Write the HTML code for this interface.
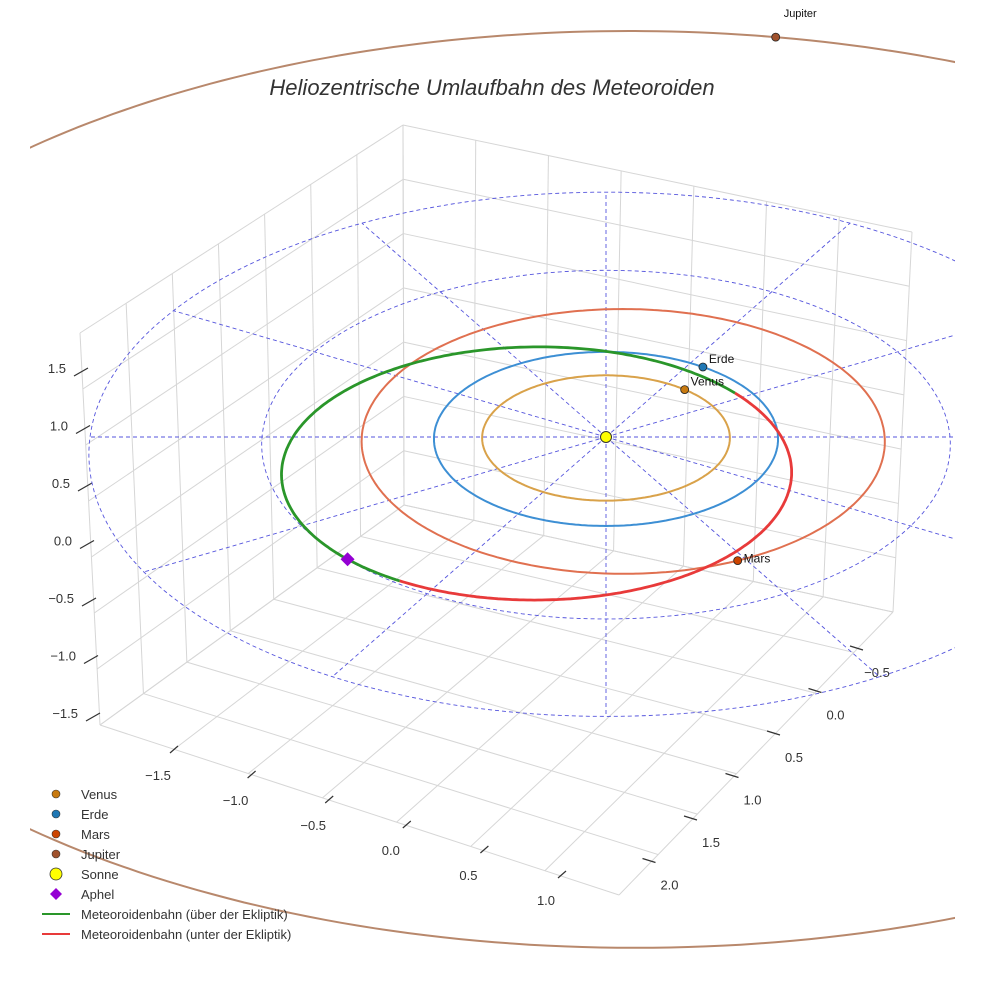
<!DOCTYPE html>
<html><head><meta charset="utf-8"><style>
html,body{margin:0;padding:0;background:#fff;}
svg{display:block;font-family:"Liberation Sans",sans-serif;}
</style></head><body>
<svg id="chart" width="984" height="984" viewBox="0 0 984 984" xmlns="http://www.w3.org/2000/svg">
<defs><clipPath id="clip"><rect x="30" y="0" width="925" height="984"/></clipPath></defs>
<rect width="984" height="984" fill="#fff"/>
<g id="box"></g>
<g id="data" clip-path="url(#clip)"></g>
<text x="492" y="95" text-anchor="middle" font-size="22" font-style="italic" fill="#333">Heliozentrische Umlaufbahn des Meteoroiden</text>
<g id="legend"></g>
</svg>
<script>
// ---- data ----
const planetNames = ["Venus","Erde","Mars","Jupiter"];
const planetA = [0.72, 1.0, 1.52, 5.2];          // semi-major axis (AU)
const planetCenterX = [0, 0, 0.10, 0.15];          // orbit centre offset (AU)
const planetAngle = [50, 55, -65, 79.5];           // planet position angle (deg)
const orbitColors = ["#d9a24a","#3d8fd4","#e07050","#b8886c"];
const markerColors = ["#c87a10","#1f77b4","#cc4400","#a0522d"];
const meteorCenter = [-0.40, -0.37];
const meteorAxes = [1.47, 1.43];
const meteorAboveRange = [38, 239];                // deg: green portion
const aphelAngle = 224;
const refRadii = [2, 3];
const radialAngles = [0,30,60,90,120,150,180,210,240,270,300,330];
const zTicks = ["1.5","1.0","0.5","0.0","−0.5","−1.0","−1.5"];
const xTicks = ["−1.5","−1.0","−0.5","0.0","0.5","1.0"];
const yTicks = ["−0.5","0.0","0.5","1.0","1.5","2.0"];

// ---- projection ----
const CX=606, CY=437, SX=172, SY=87, K=0.022;
function proj(x,y){const f=1/(1+K*y);return [CX+x*SX*f, CY-y*SY*f];}
const NS="http://www.w3.org/2000/svg";
function mk(tag,attrs,parent){const e=document.createElementNS(NS,tag);for(const k in attrs)e.setAttribute(k,attrs[k]);parent.appendChild(e);return e;}
function pathFrom(fn,a0,a1,n){let d="";for(let i=0;i<=n;i++){const t=(a0+(a1-a0)*i/n)*Math.PI/180;const p=fn(t);d+=(i?"L":"M")+p[0].toFixed(1)+","+p[1].toFixed(1);}return d;}

// ---- box / grid ----
const box=document.getElementById("box");
const LB=[100,725],LT=[80,333],BB=[404,505],BT=[403,125],RB=[893,612],RT=[912,232],FB=[619,895];
function lerp(a,b,t){return [a[0]+(b[0]-a[0])*t,a[1]+(b[1]-a[1])*t];}
function line(p,q,c,w,name){const e=mk("line",{x1:p[0],y1:p[1],x2:q[0],y2:q[1],stroke:c,"stroke-width":w},box);

}
const G="#d6d6d6";
for(let i=0;i<=7;i++){const t=i/7;line(lerp(LB,BB,t),lerp(LT,BT,t),G,1,"left-wall-grid");line(lerp(BB,RB,t),lerp(BT,RT,t),G,1,"right-wall-grid");}
for(let i=0;i<=7;i++){const t=i/7;line(lerp(LB,LT,t),lerp(BB,BT,t),G,1,"left-wall-grid");line(lerp(BB,BT,t),lerp(RB,RT,t),G,1,"right-wall-grid");}
for(let i=0;i<=7;i++){const t=i/7;line(lerp(LB,FB,t),lerp(BB,RB,t),G,1,"floor-grid");line(lerp(LB,BB,t),lerp(FB,RB,t),G,1,"floor-grid");}
// z ticks
zTicks.forEach((s,i)=>{const y=368+i*57.5;const x=92+i*2;line([x-18,y+8],[x-4,y],"#333",1.2,"z-tick");
const t=mk("text",{x:x-26,y:y+5,"font-size":13,fill:"#333","text-anchor":"end"},box);t.textContent=s;

});
xTicks.forEach((s,i)=>{const x=170+i*77.6,y=753+i*25;line([x,y],[x+8,y-7],"#333",1.2,"x-tick");
const t=mk("text",{x:x-12,y:y+27,"font-size":13,fill:"#333","text-anchor":"middle"},box);t.textContent=s;

});
yTicks.forEach((s,i)=>{const x=863-i*41.5,y=650+i*42.5;line([x-13,y-4],[x,y],"#333",1.2,"y-tick");
const t=mk("text",{x:x+14,y:y+27,"font-size":13,fill:"#333","text-anchor":"middle"},box);t.textContent=s;

});

// ---- data layer ----
const g=document.getElementById("data");
refRadii.forEach(r=>{const e=mk("path",{d:pathFrom(t=>proj(r*Math.cos(t),r*Math.sin(t)),0,360,240),fill:"none",stroke:"#5555dd","stroke-width":0.9,"stroke-dasharray":"4,3"},g);

});
const rmax=refRadii[refRadii.length-1];
radialAngles.forEach(a=>{const t=a*Math.PI/180;const p=proj(0,0),q=proj(rmax*Math.cos(t),rmax*Math.sin(t));
const e=mk("line",{x1:p[0],y1:p[1],x2:q[0],y2:q[1],stroke:"#5555dd","stroke-width":0.9,"stroke-dasharray":"4,3"},g);

});
planetNames.forEach((n,i)=>{const a=planetA[i],c=planetCenterX[i];
const e=mk("path",{d:pathFrom(t=>proj(c+a*Math.cos(t),a*Math.sin(t)),0,360,360),fill:"none",stroke:orbitColors[i],"stroke-width":2},g);

});
// meteoroid
const mfn=t=>proj(meteorCenter[0]+meteorAxes[0]*Math.cos(t),meteorCenter[1]+meteorAxes[1]*Math.sin(t));
const above=mk("path",{d:pathFrom(mfn,meteorAboveRange[0],meteorAboveRange[1],200),fill:"none",stroke:"#2a962a","stroke-width":2.8},g);


const below=mk("path",{d:pathFrom(mfn,meteorAboveRange[1],meteorAboveRange[0]+360,200),fill:"none",stroke:"#e83a3a","stroke-width":2.8},g);


// planets
planetNames.forEach((n,i)=>{const t=planetAngle[i]*Math.PI/180,a=planetA[i];const p=proj(planetCenterX[i]+a*Math.cos(t),a*Math.sin(t));
const c=mk("circle",{cx:p[0],cy:p[1],r:4,fill:markerColors[i],stroke:"#222","stroke-width":0.8},g);


const off=i===3?[8,-20]:[6,-4];
const tx=mk("text",{x:p[0]+off[0],y:p[1]+off[1]+(i===2?6:0),"font-size":i===3?11:12,fill:"#111"},g);tx.textContent=n;

});
const s=proj(0,0);const sun=mk("circle",{cx:s[0],cy:s[1],r:5.5,fill:"#ffff00",stroke:"#333","stroke-width":1},g);


const ap=mfn(aphelAngle*Math.PI/180);
const dia=mk("polygon",{points:`${ap[0]},${ap[1]-7} ${ap[0]+7},${ap[1]} ${ap[0]},${ap[1]+7} ${ap[0]-7},${ap[1]}`,fill:"#9400d3"},g);



// ---- legend ----
const lg=document.getElementById("legend");
const legLabels=["Venus","Erde","Mars","Jupiter","Sonne","Aphel","Meteoroidenbahn (über der Ekliptik)","Meteoroidenbahn (unter der Ekliptik)"];
const legKinds=["c","c","c","c","s","d","l","l"];
const legColors=["#c87a10","#1f77b4","#cc4400","#a0522d","#ffff00","#9400d3","#2a962a","#e83a3a"];
legLabels.forEach((l,i)=>{const y=794+i*20;let m;
if(legKinds[i]==="c"){m=mk("circle",{cx:56,cy:y,r:4,fill:legColors[i],stroke:"#333","stroke-width":0.6},lg);}
else if(legKinds[i]==="s"){m=mk("circle",{cx:56,cy:y,r:6,fill:legColors[i],stroke:"#333","stroke-width":0.8},lg);}
else if(legKinds[i]==="d"){m=mk("polygon",{points:`56,${y-6} 62,${y} 56,${y+6} 50,${y}`,fill:legColors[i]},lg);}
else{m=mk("line",{x1:42,y1:y,x2:70,y2:y,stroke:legColors[i],"stroke-width":2},lg);}


const t=mk("text",{x:81,y:y+5,"font-size":13,fill:"#333"},lg);t.textContent=l;

});
</script>
</body></html>
